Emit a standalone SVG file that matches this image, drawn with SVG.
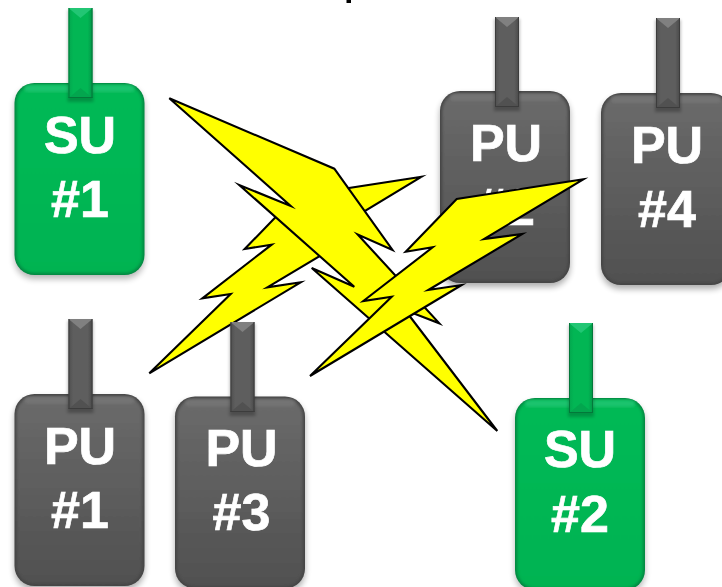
<svg xmlns="http://www.w3.org/2000/svg" width="722" height="587" viewBox="0 0 722 587">
<style>
.label{font-family:"Liberation Sans",Arial,sans-serif;font-weight:700;font-size:52px;fill:#fff;stroke:#fff;stroke-width:.7;text-anchor:middle}
.bolt{fill:#ff0;stroke:#000;stroke-width:2.1;stroke-linejoin:miter;stroke-miterlimit:6}
</style>
<defs>
<filter id="soft" x="-20%" y="-20%" width="140%" height="140%"><feGaussianBlur stdDeviation="3"/></filter>
<filter id="edge" x="-10%" y="-10%" width="120%" height="120%"><feGaussianBlur stdDeviation="1.6"/></filter>
<filter id="tabshade" x="-40%" y="-10%" width="180%" height="120%"><feGaussianBlur stdDeviation="1.5"/></filter>
<linearGradient id="puFill" x1="0" y1="0" x2="0" y2="1"><stop offset="0" stop-color="#6a6a6a"/><stop offset="0.5" stop-color="#5d5d5d"/><stop offset="1" stop-color="#505050"/></linearGradient>
<linearGradient id="suFill" x1="0" y1="0" x2="0" y2="1"><stop offset="0" stop-color="#02b955"/><stop offset="1" stop-color="#01b351"/></linearGradient>
<linearGradient id="puTab" x1="0" y1="0" x2="1" y2="0"><stop offset="0" stop-color="#4f4f4f"/><stop offset="0.2" stop-color="#5e5e5e"/><stop offset="0.8" stop-color="#5e5e5e"/><stop offset="1" stop-color="#494949"/></linearGradient>
<linearGradient id="suTab" x1="0" y1="0" x2="1" y2="0"><stop offset="0" stop-color="#03a64e"/><stop offset="0.2" stop-color="#02b654"/><stop offset="0.8" stop-color="#02b654"/><stop offset="1" stop-color="#039447"/></linearGradient>
<clipPath id="bodyClip"><rect x="0" y="0" width="130" height="192" rx="20"/></clipPath>
<g id="body-pu">
<rect x="0" y="4" width="130" height="192" rx="20" fill="#000" opacity=".32" filter="url(#soft)"/>
<rect width="130" height="192" rx="20" fill="#444"/>
<g clip-path="url(#bodyClip)">
<rect x="2" y="2" width="126" height="188" rx="18" fill="url(#puFill)" filter="url(#edge)"/>
<rect x="10" y="3" width="110" height="7" rx="3.500" fill="#777" opacity=".8" filter="url(#edge)"/>
</g>
</g>
<g id="body-su">
<rect x="0" y="4" width="130" height="192" rx="20" fill="#000" opacity=".28" filter="url(#soft)"/>
<rect width="130" height="192" rx="20" fill="#038540"/>
<g clip-path="url(#bodyClip)">
<rect x="2" y="1.500" width="126" height="188.500" rx="18" fill="url(#suFill)" filter="url(#edge)"/>
<rect x="10" y="2" width="110" height="7" rx="3.500" fill="#22c674" opacity=".8" filter="url(#edge)"/>
</g>
</g>
<g id="tab-pu">
<rect x="-1" y="2" width="26" height="92" fill="#000" opacity=".25" filter="url(#tabshade)"/>
<rect width="24" height="90" fill="url(#puTab)"/>
<path d="M0 0H24L12 10Z" fill="#808080"/>
<path d="M0 90H24L12 80Z" fill="#515151"/>
<path d="M.5 0V90M23.500 0V90M0 89.500H24" stroke="#3c3c3c" stroke-width="1" fill="none"/>
</g>
<g id="tab-su">
<rect x="-1" y="2" width="26" height="92" fill="#000" opacity=".2" filter="url(#tabshade)"/>
<rect width="24" height="90" fill="url(#suTab)"/>
<path d="M0 0H24L12 10Z" fill="#22c674"/>
<path d="M0 90H24L12 80Z" fill="#03a64e"/>
<path d="M.5 0V90M23.500 0V90M0 89.500H24" stroke="#03783a" stroke-width="1" fill="none"/>
</g>
</defs>
<rect width="722" height="587" fill="#fff"/>
<rect x="346.500" y="0" width="4.500" height="3" fill="#000"/>
<g id="su1"><use href="#body-su" x="14.500" y="83"/><use href="#tab-su" x="68.500" y="8"/><text class="label" x="80" y="153">SU</text><text class="label" x="80" y="217">#1</text></g>
<g id="pu1"><use href="#body-pu" x="14.500" y="394"/><use href="#tab-pu" x="68.500" y="319"/><text class="label" x="80" y="464">PU</text><text class="label" x="80" y="528">#1</text></g>
<g id="pu2"><use href="#body-pu" x="440" y="91"/><use href="#tab-pu" x="495" y="17"/><text class="label" x="506" y="160.500">PU</text><text class="label" x="506" y="225">#2</text></g>
<g id="pu4"><use href="#body-pu" x="601" y="93"/><use href="#tab-pu" x="656" y="18"/><text class="label" x="667" y="162.500">PU</text><text class="label" x="667" y="227">#4</text></g>
<g id="su2"><use href="#body-su" x="515" y="398"/><use href="#tab-su" x="569" y="323"/><text class="label" x="580" y="467">SU</text><text class="label" x="580" y="531.500">#2</text></g>
<g id="connectors">
<polygon id="bolt-pu3" class="bolt" points="421.700,176.700 295.700,196.300 244.700,249 271.700,244.600 202.300,298.300 230.700,294 149.300,373.300 300.700,282.300 267.300,287.300 361.300,231.300 323,236.300"/>
<polygon id="bolt-su" class="bolt" points="169.300,98.300 334.300,168.700 392.500,250 357.700,234.500 439.300,323.300 405,310 497.300,431 311.700,268 354.300,286.800 239.300,185 290.700,206"/>
<polygon id="bolt-pu4" class="bolt" points="583.300,179.300 456.700,199 405.700,251.700 432.700,247.300 363.300,301 391.700,296.700 310,376 461.700,285 428.300,290 522.300,234 484,239"/>
</g>
<g id="pu3"><use href="#body-pu" x="175" y="396.500"/><use href="#tab-pu" x="230.500" y="322"/><text class="label" x="241.500" y="466">PU</text><text class="label" x="241.500" y="530">#3</text></g>
</svg>
